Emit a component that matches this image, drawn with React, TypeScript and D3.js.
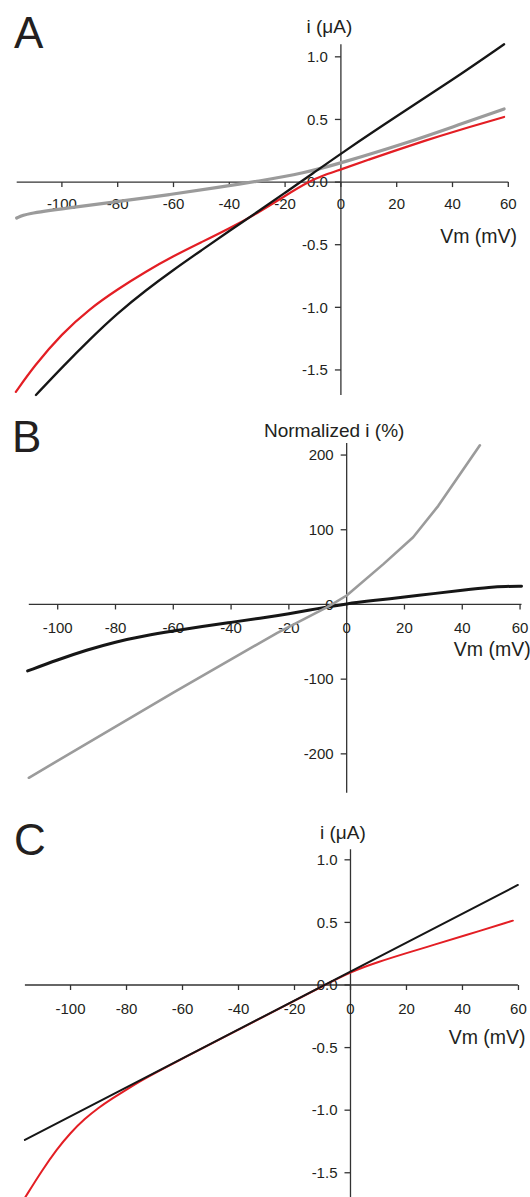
import React from 'react';
import * as d3 from 'd3';

// ---------- tick values / labels ----------
const vmTicks = [-100, -80, -60, -40, -20, 0, 20, 40, 60];
const vmTickLabels = ['-100', '-80', '-60', '-40', '-20', '0', '20', '40', '60'];
const currentTicks = [1.0, 0.5, 0, -0.5, -1.0, -1.5];
const currentTickLabels = ['1.0', '0.5', '0.0', '-0.5', '-1.0', '-1.5'];
const normTicks = [200, 100, 0, -100, -200];
const normTickLabels = ['200', '100', '0', '-100', '-200'];

// ---------- Panel A (i in µA vs Vm in mV) ----------
const aBlackVm = [-109.3, -100, -90, -80, -70, -60, -50, -40, -30, -20, -10, 0, 20, 40, 58.5];
const aBlackI = [-1.7, -1.48, -1.255, -1.045, -0.865, -0.7, -0.545, -0.39, -0.24, -0.085, 0.07, 0.228, 0.527, 0.815, 1.1];
const aRedVm = [-116.5, -110, -100, -90, -80, -70, -60, -50, -40, -30, -20, -12, -5, 0, 10, 20, 30, 40, 58.5];
const aRedI = [-1.675, -1.47, -1.21, -1.01, -0.855, -0.715, -0.59, -0.48, -0.37, -0.25, -0.11, 0.0, 0.065, 0.1, 0.18, 0.255, 0.33, 0.4, 0.52];
const aGrayVm = [-116.2, -113.1, -98, -79.7, -61.5, -43.3, -30, -13, 0, 23.4, 40, 58.5];
const aGrayI = [-0.287, -0.253, -0.207, -0.155, -0.101, -0.04, 0.005, 0.072, 0.152, 0.311, 0.44, 0.584];

// ---------- Panel B (normalized i in % vs Vm) ----------
const bBlackVm = [-110.4, -100, -90, -80, -70, -60, -50, -40, -30, -20, -10, 0, 10, 20, 30, 40, 50, 55, 60.5];
const bBlackPct = [-89, -74, -61, -50, -42, -35.5, -29.5, -24, -18.5, -12.5, -5.5, 1, 5.5, 10, 14.5, 19, 23.3, 24.2, 24.4];
const bGrayVm = [-110, -60, -24, -6.4, 0, 12.7, 23, 31.7, 46.1];
const bGrayPct = [-232, -118, -38, -3, 12, 54, 90, 132, 213];

// ---------- Panel C (i in µA vs Vm) ----------
const cBlackVm = [-116.3, 59.8];
const cBlackI = [-1.238, 0.799];
const cRedVm = [-116.3, -110, -105, -100, -95, -90, -85, -80, -75, -70, -60, -40, -20, -10, 0, 10, 20, 30, 40, 58];
const cRedI = [-1.7, -1.475, -1.315, -1.18, -1.07, -0.98, -0.905, -0.835, -0.767, -0.704, -0.588, -0.357, -0.125, -0.01, 0.105, 0.185, 0.255, 0.322, 0.39, 0.514];

const FONT = '"Liberation Sans", Arial, Helvetica, sans-serif';
const INK = '#231f20';
const RED = '#e31e24';
const BLACK = '#161616';
const GRAY = '#9b9b9b';

type Series = { xs: number[]; ys: number[]; color: string; width: number; linear?: boolean };

type PanelProps = {
  letter: string;
  letterPos: [number, number];
  xDomain: [number, number];
  xRange: [number, number];
  yDomain: [number, number];
  yRange: [number, number];
  yTicks: number[];
  yTickLabels: string[];
  yTitle: string;
  yTitlePos: [number, number];
  xTitlePos: [number, number];
  xLabelDy: number;
  series: Series[];
};

function Panel(p: PanelProps) {
  const x = d3.scaleLinear().domain(p.xDomain).range(p.xRange);
  const y = d3.scaleLinear().domain(p.yDomain).range(p.yRange);
  const x0 = x(0);
  const y0 = y(0);
  return (
    <g>
      <text x={p.letterPos[0]} y={p.letterPos[1]} fontSize={44} fontFamily={FONT} fill={INK}>
        {p.letter}
      </text>
      <text x={p.yTitlePos[0]} y={p.yTitlePos[1]} fontSize={19} fontFamily={FONT} fill={INK}>
        {p.yTitle}
      </text>
      <text x={p.xTitlePos[0]} y={p.xTitlePos[1]} fontSize={19.5} fontFamily={FONT} fill={INK}>
        Vm (mV)
      </text>
      {/* axes */}
      <line x1={x(p.xDomain[0])} x2={x(p.xDomain[1])} y1={y0} y2={y0} stroke="#333" strokeWidth={1.3} />
      <line x1={x0} x2={x0} y1={y(p.yDomain[0])} y2={y(p.yDomain[1])} stroke="#333" strokeWidth={1.3} />
      {vmTicks.map((t, i) => (
        <g key={'xt' + i}>
          <line x1={x(t)} x2={x(t)} y1={y0} y2={y0 + 5} stroke="#333" strokeWidth={1.3} />
          <text
            x={x(t)}
            y={y0 + p.xLabelDy}
            fontSize={15}
            fontFamily={FONT}
            fill={INK}
            textAnchor="middle"
          >
            {vmTickLabels[i]}
          </text>
        </g>
      ))}
      {p.yTicks.map((t, i) => (
        <g key={'yt' + i}>
          <line x1={x0 - 6} x2={x0} y1={y(t)} y2={y(t)} stroke="#333" strokeWidth={1.3} />
          <text
            x={x0 - 13}
            y={y(t) + 5.3}
            fontSize={15}
            fontFamily={FONT}
            fill={INK}
            textAnchor="end"
          >
            {p.yTickLabels[i]}
          </text>
        </g>
      ))}
      {p.series.map((s, k) => {
        const pts = s.xs.map((v, i) => [v, s.ys[i]] as [number, number]);
        const gen = d3
          .line<[number, number]>()
          .x((d) => x(d[0]))
          .y((d) => y(d[1]))
          .curve(s.linear ? d3.curveLinear : d3.curveBasis);
        return (
          <path
            key={'s' + k}
            d={gen(pts) || ''}
            fill="none"
            stroke={s.color}
            strokeWidth={s.width}
            strokeLinecap="round"
            strokeLinejoin="round"
          />
        );
      })}
    </g>
  );
}

export default function App() {
  return (
    <svg
      width={530}
      height={1197}
      viewBox="0 0 530 1197"
      style={{ position: 'absolute', left: 0, top: 0, background: '#fff' }}
    >
      <rect x={0} y={0} width={530} height={1197} fill="#fff" />
      <Panel
        letter="A"
        letterPos={[14, 48]}
        xDomain={[-116.2, 60]}
        xRange={[16.7, 508.3]}
        yDomain={[-1.7, 1.1]}
        yRange={[395, 44.3]}
        yTicks={currentTicks}
        yTickLabels={currentTickLabels}
        yTitle="i (μA)"
        yTitlePos={[306.5, 33]}
        xTitlePos={[440.2, 243]}
        xLabelDy={27}
        series={[
          { xs: aGrayVm, ys: aGrayI, color: GRAY, width: 3.2 },
          { xs: aRedVm, ys: aRedI, color: RED, width: 2.2 },
          { xs: aBlackVm, ys: aBlackI, color: BLACK, width: 2.3 },
        ]}
      />
      <Panel
        letter="B"
        letterPos={[12, 452]}
        xDomain={[-110, 60.5]}
        xRange={[28.8, 521.5]}
        yDomain={[-252, 216]}
        yRange={[792.7, 443.1]}
        yTicks={normTicks}
        yTickLabels={normTickLabels}
        yTitle="Normalized i (%)"
        yTitlePos={[264, 437]}
        xTitlePos={[453.8, 655.5]}
        xLabelDy={29}
        series={[
          { xs: bBlackVm, ys: bBlackPct, color: BLACK, width: 3 },
          { xs: bGrayVm, ys: bGrayPct, color: GRAY, width: 2.6, linear: true },
        ]}
      />
      <Panel
        letter="C"
        letterPos={[14, 855]}
        xDomain={[-116.3, 59.8]}
        xRange={[24.9, 517.9]}
        yDomain={[-1.7, 1.084]}
        yRange={[1197.8, 849.3]}
        yTicks={currentTicks}
        yTickLabels={currentTickLabels}
        yTitle="i (μA)"
        yTitlePos={[320, 839]}
        xTitlePos={[448.7, 1044]}
        xLabelDy={29}
        series={[
          { xs: cRedVm, ys: cRedI, color: RED, width: 2 },
          { xs: cBlackVm, ys: cBlackI, color: BLACK, width: 2 },
        ]}
      />
    </svg>
  );
}
